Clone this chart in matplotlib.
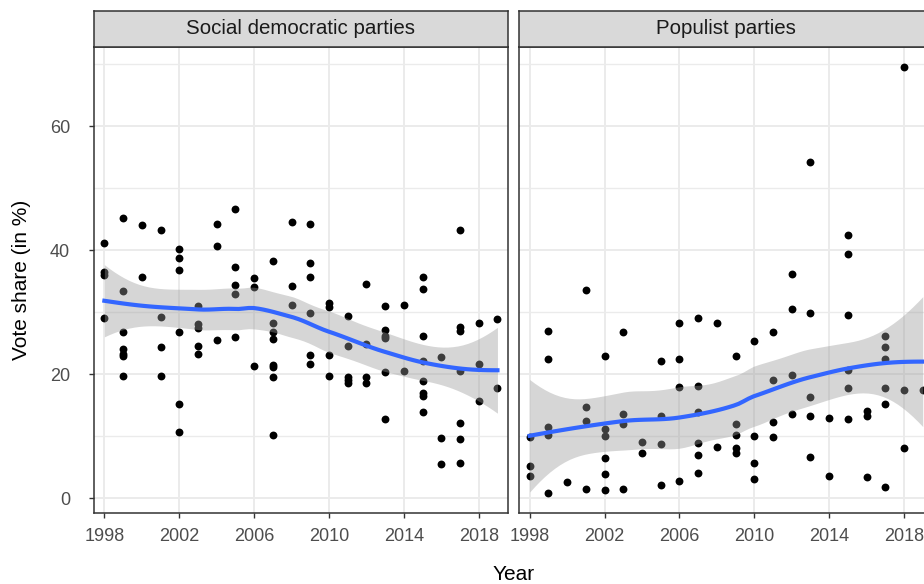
import numpy as np
import matplotlib
matplotlib.use("Agg")
import matplotlib.pyplot as plt

plt.rcParams['font.family'] = ['Liberation Sans', 'DejaVu Sans']

# --- data ---
panel_titles = ['Social democratic parties', 'Populist parties']

sd_year = [1998, 1998, 1998, 1998,
           1999, 1999, 1999, 1999, 1999, 1999, 1999,
           2000, 2000,
           2001, 2001, 2001, 2001,
           2002, 2002, 2002, 2002, 2002, 2002,
           2003, 2003, 2003, 2003, 2003,
           2004, 2004, 2004,
           2005, 2005, 2005, 2005, 2005,
           2006, 2006, 2006,
           2007, 2007, 2007, 2007, 2007, 2007, 2007, 2007,
           2008, 2008, 2008,
           2009, 2009, 2009, 2009, 2009, 2009,
           2010, 2010, 2010, 2010,
           2011, 2011, 2011, 2011, 2011,
           2012, 2012, 2012, 2012,
           2013, 2013, 2013, 2013, 2013, 2013,
           2014, 2014,
           2015, 2015, 2015, 2015, 2015, 2015, 2015, 2015,
           2016, 2016, 2016,
           2017, 2017, 2017, 2017, 2017, 2017, 2017,
           2018, 2018, 2018,
           2019, 2019]
sd_share = [41.1, 36.5, 36.0, 29.1,
            45.2, 33.4, 26.8, 24.0, 23.3, 22.9, 19.7,
            44.0, 35.7,
            43.3, 29.2, 24.4, 19.7,
            40.2, 38.7, 36.7, 26.8, 15.1, 10.7,
            31.0, 28.1, 27.4, 24.6, 23.3,
            44.2, 40.7, 25.5,
            46.7, 37.3, 34.4, 32.9, 25.9,
            35.5, 34.1, 21.3,
            38.3, 28.2, 26.8, 25.6, 21.5, 21.2, 19.5, 10.1,
            44.6, 34.2, 31.1,
            44.2, 37.9, 35.6, 29.9, 23.1, 21.6,
            31.4, 30.8, 23.0, 19.7,
            29.4, 24.6, 19.5, 19.0, 18.6,
            34.5, 24.9, 19.5, 18.5,
            31.0, 27.1, 26.2, 25.8, 20.3, 12.8,
            31.1, 20.5,
            35.7, 33.7, 26.2, 22.1, 18.9, 16.9, 16.4, 13.8,
            22.8, 9.6, 5.5,
            43.2, 27.6, 27.0, 20.5, 12.1, 9.5, 5.6,
            28.3, 21.6, 15.7,
            28.8, 17.7]

pop_year = [1998, 1998, 1998,
            1999, 1999, 1999, 1999, 1999,
            2000,
            2001, 2001, 2001, 2001,
            2002, 2002, 2002, 2002, 2002, 2002,
            2003, 2003, 2003, 2003,
            2004, 2004,
            2005, 2005, 2005, 2005,
            2006, 2006, 2006, 2006,
            2007, 2007, 2007, 2007, 2007, 2007,
            2008, 2008,
            2009, 2009, 2009, 2009, 2009,
            2010, 2010, 2010, 2010,
            2011, 2011, 2011, 2011,
            2012, 2012, 2012, 2012,
            2013, 2013, 2013, 2013, 2013,
            2014, 2014,
            2015, 2015, 2015, 2015, 2015, 2015,
            2016, 2016, 2016,
            2017, 2017, 2017, 2017, 2017, 2017,
            2018, 2018, 2018,
            2019]
pop_share = [9.8, 5.1, 3.5,
             27.0, 22.5, 11.4, 10.2, 0.8,
             2.6,
             33.5, 14.7, 12.5, 1.4,
             22.9, 11.2, 10.0, 6.4, 3.9, 1.3,
             26.8, 13.6, 11.9, 1.5,
             9.0, 7.2,
             22.1, 13.2, 8.7, 2.1,
             28.3, 22.5, 17.9, 2.8,
             29.0, 18.0, 13.9, 8.8, 6.9, 4.1,
             28.3, 8.2,
             22.9, 11.9, 10.1, 8.1, 7.2,
             25.3, 10.0, 5.6, 3.0,
             26.7, 19.1, 12.2, 9.8,
             36.2, 30.5, 19.8, 13.6,
             54.2, 29.8, 16.3, 13.2, 6.6,
             12.9, 3.5,
             42.4, 39.4, 29.5, 20.6, 17.7, 12.7,
             14.0, 13.2, 3.4,
             26.1, 24.3, 22.4, 17.8, 15.2, 1.7,
             69.5, 17.5, 8.0,
             17.5]

x_breaks = [1998, 2002, 2006, 2010, 2014, 2018]
y_breaks = [0, 20, 40, 60]
y_minor = [10, 30, 50, 70]


def loess_smooth(x, y, span=0.75, cell=0.2, n_grid=80):
    """local quadratic fit (tricube weights) evaluated on kd-tree vertices
    and blended with cubic Hermite pieces, roughly what R's loess does"""
    x = np.asarray(x, float)
    y = np.asarray(y, float)
    n = len(x)
    q = int(np.floor(n * span))
    fc = int(np.floor(n * span * cell))

    def op_rows(x0):
        d = np.abs(x - x0)
        h = np.sort(d)[q - 1]
        w = np.clip(1 - (d / h) ** 3, 0, None) ** 3
        X = np.column_stack([np.ones(n), x - x0, (x - x0) ** 2])
        XtW = X.T * w
        sol = np.linalg.solve(XtW @ X, XtW)
        return sol[0], sol[1]

    # vertices of the kd tree
    mu = 0.005 * (x.max() - x.min())
    verts = {x.min() - mu, x.max() + mu}

    def split(pts, a, b):
        if len(pts) <= fc:
            return
        s = np.sort(pts)
        m = (len(s) + 1) // 2 - 1
        while m > 0 and s[m - 1] == s[m]:
            m -= 1
        v = s[m]
        if v == a or v == b:
            return
        verts.add(v)
        split(s[s < v], a, v)
        split(s[s >= v], v, b)

    split(x, x.min() - mu, x.max() + mu)
    verts = np.array(sorted(verts))
    vrows = [op_rows(v) for v in verts]

    def interp_row(x0):
        k = min(np.searchsorted(verts, x0, side='right') - 1, len(verts) - 2)
        v0, v1 = verts[k], verts[k + 1]
        dv = v1 - v0
        t = (x0 - v0) / dv
        g0, s0 = vrows[k]
        g1, s1 = vrows[k + 1]
        return ((1 - t) ** 2 * (1 + 2 * t) * g0 + t ** 2 * (3 - 2 * t) * g1
                + (t * (1 - t) ** 2 * s0 - t ** 2 * (1 - t) * s1) * dv)

    L = np.array([interp_row(xi) for xi in x])
    res = y - L @ y
    M = (np.eye(n) - L).T @ (np.eye(n) - L)
    sigma = np.sqrt(np.sum(res ** 2) / np.trace(M))

    grid = np.linspace(x.min(), x.max(), n_grid)
    rows = np.array([interp_row(g) for g in grid])
    fit = rows @ y
    se = sigma * np.sqrt(np.sum(rows ** 2, axis=1))
    return grid, fit, fit - 1.98 * se, fit + 1.98 * se


W, H = 924, 584
fig = plt.figure(figsize=(W / 100, H / 100), dpi=100)


def rect(x0, y0, x1, y1):
    return [x0 / W, 1 - y1 / H, (x1 - x0) / W, (y1 - y0) / H]


panel_x = [(93.7, 508.3), (519.0, 933.6)]
panel_top, panel_bot, strip_top = 46.7, 512.7, 11.0
edge = '#333333'

series = [(sd_year, sd_share), (pop_year, pop_share)]

for i, ((x0, x1), (xs, ys), title) in enumerate(zip(panel_x, series, panel_titles)):
    ax = fig.add_axes(rect(x0, panel_top, x1, panel_bot))
    ax.set_xlim(1997.43, 2019.58)
    ax.set_ylim(-2.37, 72.8)
    ax.set_axisbelow(True)

    ax.scatter(xs, ys, s=32, color='black', linewidths=0, zorder=2)
    gx, fit, lo, hi = loess_smooth(xs, ys)
    ax.fill_between(gx, lo, hi, color='#999999', alpha=0.4, linewidth=0, zorder=3)
    ax.plot(gx, fit, color='#3366FF', linewidth=3, zorder=4)

    ax.set_xticks(x_breaks)
    ax.set_yticks(y_breaks)
    ax.set_yticks(y_minor, minor=True)
    ax.grid(True, which='major', color='#EBEBEB', linewidth=1.4)
    ax.grid(True, which='minor', axis='y', color='#EBEBEB', linewidth=1.0)
    ax.tick_params(which='minor', length=0)
    ax.tick_params(which='major', length=3.6, width=1.0, color=edge,
                   labelsize=13, labelcolor='#4D4D4D')
    ax.tick_params(axis='x', pad=7.6)
    ax.tick_params(axis='y', pad=13.5)
    if i > 0:
        ax.tick_params(axis='y', length=0, labelleft=False)
    for sp in ax.spines.values():
        sp.set_color(edge)
        sp.set_linewidth(1.1)

    # facet strip
    st = fig.add_axes(rect(x0, strip_top, x1, panel_top))
    st.set_facecolor('#D9D9D9')
    st.set_xticks([])
    st.set_yticks([])
    for sp in st.spines.values():
        sp.set_color(edge)
        sp.set_linewidth(1.1)
    st.text(0.5, 0.5, title, transform=st.transAxes, ha='center', va='center',
            fontsize=14.8, color='#1A1A1A')

fig.text((93.7 + 933.6) / 2 / W, 1 - 574 / H, 'Year', ha='center', va='center',
         fontsize=15, color='black')
fig.text(22 / W, 1 - (panel_top + panel_bot) / 2 / H, 'Vote share (in %)',
         rotation=90, ha='center', va='center', fontsize=15, color='black')

fig.savefig('out.png', dpi=100)
